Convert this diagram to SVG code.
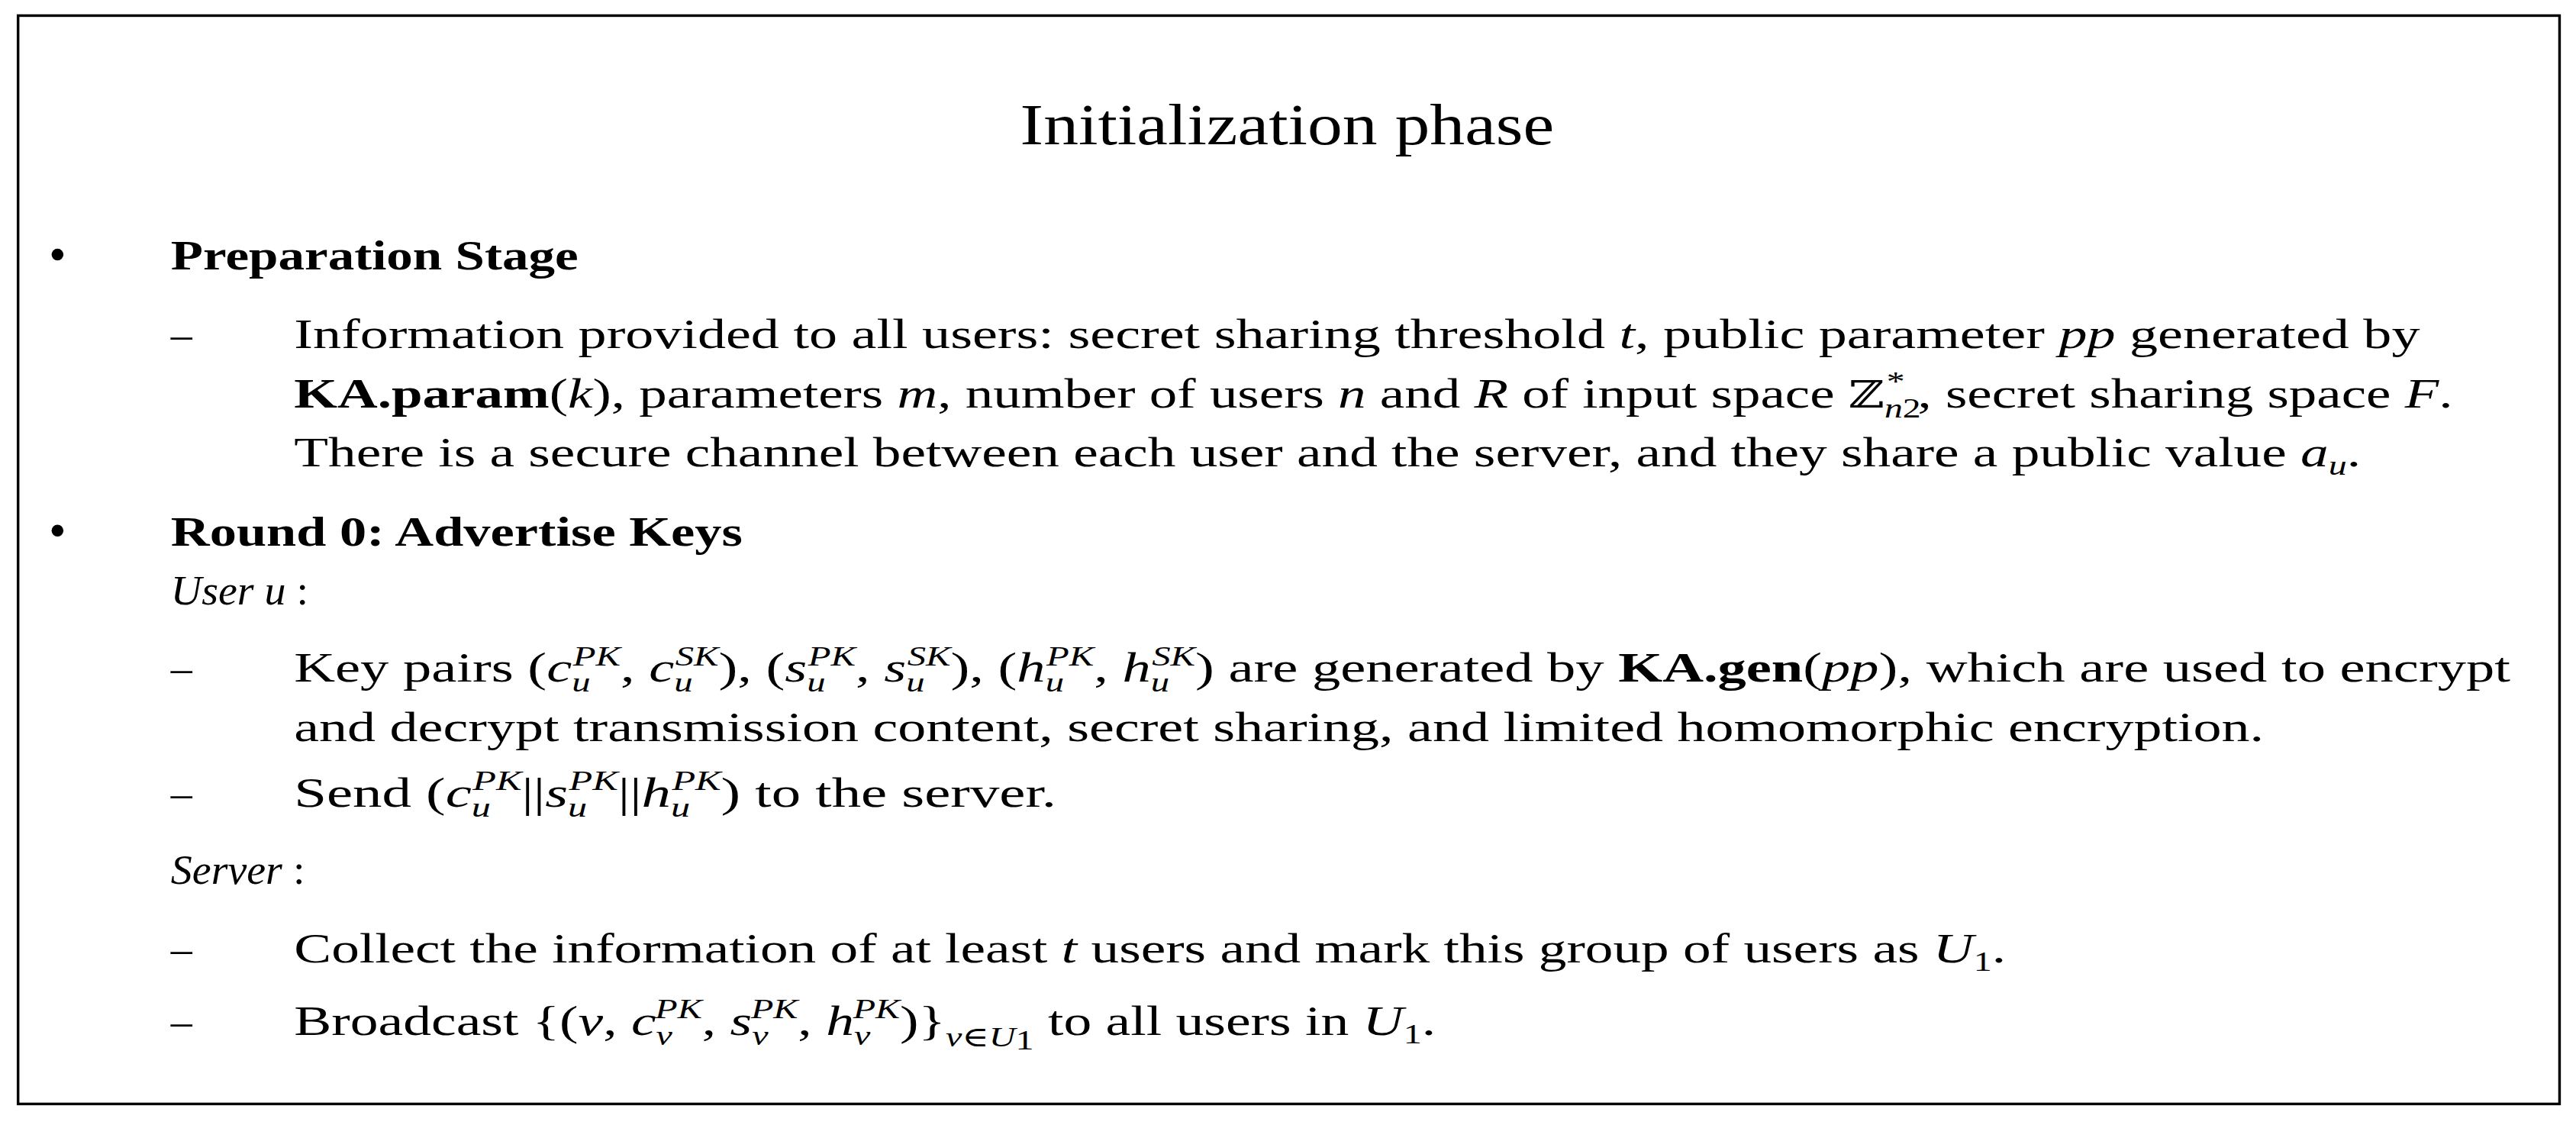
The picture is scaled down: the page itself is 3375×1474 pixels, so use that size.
<svg xmlns="http://www.w3.org/2000/svg" width="3375" height="1474" viewBox="0 0 3375 1474">
<style>
text{font-family:"Liberation Serif","DejaVu Serif",serif;font-size:26px;fill:#000}
.title{font-size:35px}
.i{font-style:italic}
.b{font-weight:bold}
.s{font-size:17px}
.z{font-family:"DejaVu Serif",serif;font-size:23px}
</style>
<rect width="3375" height="1474" fill="#fff"/>
<g transform="scale(2.1524)">
<rect x="11" y="9.5" width="1547" height="662.5" fill="none" stroke="#000" stroke-width="1.6"/>
<g id="title"><text class="title" x="783.5" y="88" text-anchor="middle" textLength="325" lengthAdjust="spacingAndGlyphs">Initialization phase</text></g>
<g id="prep">
<circle cx="35" cy="155" r="3.6"/>
<text class="b" x="104" y="164" textLength="248" lengthAdjust="spacingAndGlyphs">Preparation Stage</text>
<text x="104" y="212">–</text>
<text x="179" y="212" textLength="1294" lengthAdjust="spacingAndGlyphs">Information provided to all users: secret sharing threshold <tspan class="i">t</tspan>, public parameter <tspan class="i">pp</tspan> generated by</text>
<text x="179" y="248" textLength="1314" lengthAdjust="spacingAndGlyphs"><tspan class="b">KA.param</tspan>(<tspan class="i">k</tspan>), parameters <tspan class="i">m</tspan>, number of users <tspan class="i">n</tspan> and <tspan class="i">R</tspan> of input space <tspan class="z">ℤ</tspan><tspan class="s i" dy="6">n</tspan><tspan class="s" >2</tspan><tspan class="s" dx="-16" dy="-16">*</tspan><tspan dx="6" dy="10">, secret sharing space </tspan><tspan class="i">F</tspan>.</text>
<text x="179" y="284" textLength="1258" lengthAdjust="spacingAndGlyphs">There is a secure channel between each user and the server, and they share a public value <tspan class="i">a</tspan><tspan class="s i" dy="5">u</tspan><tspan dy="-5">.</tspan></text>
</g>
<g id="round0">
<circle cx="35" cy="323" r="3.6"/>
<text class="b" x="104" y="332" textLength="348" lengthAdjust="spacingAndGlyphs">Round 0: Advertise Keys</text>
<text class="i" x="104" y="368">User u <tspan font-style="normal">:</tspan></text>
<text x="104" y="415">–</text>
<text x="179" y="415" textLength="1349" lengthAdjust="spacingAndGlyphs">Key pairs (<tspan class="i">c</tspan><tspan class="s i" dy="6">u</tspan><tspan class="s i" dx="-8" dy="-16">PK</tspan><tspan dy="10">, </tspan><tspan class="i">c</tspan><tspan class="s i" dy="6">u</tspan><tspan class="s i" dx="-8" dy="-16">SK</tspan><tspan dy="10">), (</tspan><tspan class="i">s</tspan><tspan class="s i" dy="6">u</tspan><tspan class="s i" dx="-8" dy="-16">PK</tspan><tspan dy="10">, </tspan><tspan class="i">s</tspan><tspan class="s i" dy="6">u</tspan><tspan class="s i" dx="-8" dy="-16">SK</tspan><tspan dy="10">), (</tspan><tspan class="i">h</tspan><tspan class="s i" dy="6">u</tspan><tspan class="s i" dx="-8" dy="-16">PK</tspan><tspan dy="10">, </tspan><tspan class="i">h</tspan><tspan class="s i" dy="6">u</tspan><tspan class="s i" dx="-8" dy="-16">SK</tspan><tspan dy="10">) are generated by </tspan><tspan class="b">KA.gen</tspan>(<tspan class="i">pp</tspan>), which are used to encrypt</text>
<text x="179" y="451" textLength="1199" lengthAdjust="spacingAndGlyphs">and decrypt transmission content, secret sharing, and limited homomorphic encryption.</text>
<text x="104" y="491">–</text>
<text x="179" y="491" textLength="464" lengthAdjust="spacingAndGlyphs">Send (<tspan class="i">c</tspan><tspan class="s i" dy="6">u</tspan><tspan class="s i" dx="-8" dy="-16">PK</tspan><tspan dy="10">||</tspan><tspan class="i">s</tspan><tspan class="s i" dy="6">u</tspan><tspan class="s i" dx="-8" dy="-16">PK</tspan><tspan dy="10">||</tspan><tspan class="i">h</tspan><tspan class="s i" dy="6">u</tspan><tspan class="s i" dx="-8" dy="-16">PK</tspan><tspan dy="10">) to the server.</tspan></text>
<text class="i" x="104" y="538">Server <tspan font-style="normal">:</tspan></text>
<text x="104" y="586">–</text>
<text x="179" y="586" textLength="1042" lengthAdjust="spacingAndGlyphs">Collect the information of at least <tspan class="i">t</tspan> users and mark this group of users as <tspan class="i">U</tspan><tspan class="s" dy="5">1</tspan><tspan dy="-5">.</tspan></text>
<text x="104" y="630">–</text>
<text x="179" y="630" textLength="695" lengthAdjust="spacingAndGlyphs">Broadcast {(<tspan class="i">v</tspan>, <tspan class="i">c</tspan><tspan class="s i" dy="6">v</tspan><tspan class="s i" dx="-8" dy="-16">PK</tspan><tspan dy="10">, </tspan><tspan class="i">s</tspan><tspan class="s i" dy="6">v</tspan><tspan class="s i" dx="-8" dy="-16">PK</tspan><tspan dy="10">, </tspan><tspan class="i">h</tspan><tspan class="s i" dy="6">v</tspan><tspan class="s i" dx="-8" dy="-16">PK</tspan><tspan dy="10">)}</tspan><tspan class="s i" dy="7">v∈U</tspan><tspan class="s" dy="2">1</tspan><tspan dy="-9"> to all users in </tspan><tspan class="i">U</tspan><tspan class="s" dy="5">1</tspan><tspan dy="-5">.</tspan></text>
</g>
</g>
</svg>
